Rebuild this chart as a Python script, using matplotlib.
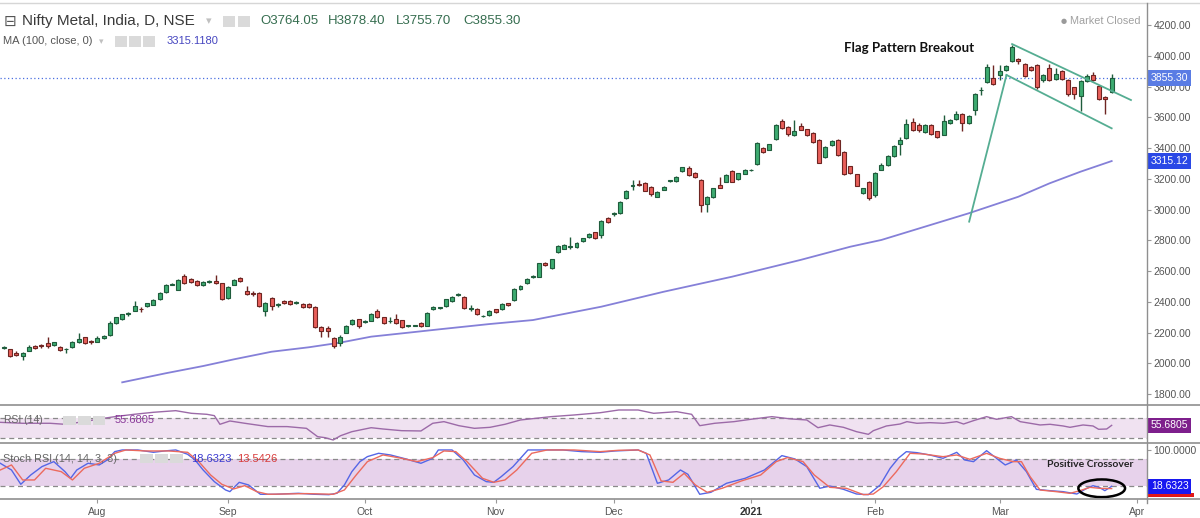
import numpy as np
import matplotlib
matplotlib.use('Agg')
import matplotlib.pyplot as plt
from matplotlib.patches import Ellipse, Rectangle
from matplotlib.lines import Line2D
import matplotlib.transforms as mtransforms

plt.rcParams['font.family'] = ['Liberation Sans', 'DejaVu Sans']

# ---------------- data (bar index 0 = 13 Jul 2020, last = 26 Mar 2021) ----------------
opens = [2100, 2090, 2068, 2045, 2082, 2114, 2118, 2130, 2118, 2108,
         2090, 2104, 2137, 2168, 2148, 2140, 2163, 2184, 2262, 2288,
         2318, 2342, 2355, 2370, 2380, 2416, 2465, 2512, 2478, 2568,
         2548, 2537, 2510, 2528, 2538, 2522, 2422, 2510, 2552, 2470,
         2455, 2458, 2340, 2422, 2382, 2406, 2403, 2394, 2385, 2384,
         2368, 2238, 2232, 2166, 2130, 2200, 2256, 2286, 2268, 2278,
         2342, 2298, 2275, 2285, 2280, 2242, 2245, 2265, 2244, 2352,
         2360, 2372, 2402, 2446, 2433, 2355, 2356, 2305, 2314, 2350,
         2350, 2390, 2412, 2482, 2520, 2560, 2563, 2655, 2620, 2722,
         2745, 2757, 2758, 2792, 2820, 2852, 2835, 2943, 2972, 2976,
         3073, 3156, 3166, 3174, 3148, 3084, 3128, 3183, 3186, 3250,
         3272, 3238, 3192, 3036, 3080, 3160, 3182, 3250, 3198, 3232,
         3255, 3294, 3402, 3388, 3458, 3578, 3535, 3486, 3543, 3522,
         3500, 3452, 3340, 3420, 3452, 3376, 3280, 3230, 3105, 3180,
         3097, 3260, 3288, 3350, 3428, 3465, 3567, 3551, 3502, 3551,
         3508, 3487, 3562, 3588, 3622, 3562, 3650, 3776, 3832, 3854,
         3876, 3908, 3966, 3977, 3947, 3930, 3941, 3843, 3923, 3848,
         3902, 3843, 3796, 3735, 3837, 3876, 3804, 3730, 3764.05]
highs = [2115, 2095, 2080, 2075, 2119, 2120, 2128, 2169, 2140, 2112,
         2100, 2145, 2195, 2172, 2152, 2175, 2182, 2272, 2303, 2322,
         2335, 2405, 2365, 2395, 2415, 2466, 2518, 2522, 2545, 2578,
         2552, 2540, 2534, 2540, 2574, 2525, 2502, 2545, 2560, 2500,
         2470, 2462, 2400, 2430, 2395, 2412, 2410, 2404, 2392, 2390,
         2372, 2242, 2240, 2172, 2185, 2248, 2288, 2290, 2280, 2325,
         2350, 2302, 2300, 2320, 2284, 2250, 2252, 2270, 2333, 2372,
         2368, 2420, 2436, 2456, 2438, 2380, 2360, 2314, 2344, 2355,
         2390, 2395, 2490, 2506, 2554, 2572, 2655, 2660, 2680, 2770,
         2776, 2823, 2790, 2816, 2845, 2856, 2930, 2950, 2985, 3055,
         3126, 3190, 3195, 3180, 3152, 3120, 3152, 3195, 3216, 3278,
         3280, 3242, 3196, 3086, 3142, 3210, 3228, 3254, 3238, 3264,
         3264, 3436, 3408, 3428, 3555, 3590, 3540, 3582, 3560, 3526,
         3504, 3456, 3412, 3450, 3456, 3380, 3284, 3234, 3142, 3184,
         3242, 3300, 3352, 3420, 3470, 3590, 3592, 3560, 3556, 3556,
         3512, 3616, 3590, 3640, 3628, 3615, 3756, 3800, 3945, 3940,
         3940, 3940, 4072, 3985, 3952, 3936, 3946, 3880, 3945, 3920,
         3908, 3848, 3800, 3840, 3880, 3895, 3810, 3740, 3878.40]
lows = [2095, 2040, 2050, 2021, 2078, 2095, 2100, 2102, 2112, 2078,
        2068, 2100, 2132, 2126, 2128, 2135, 2158, 2180, 2258, 2282,
        2305, 2338, 2335, 2365, 2376, 2412, 2460, 2508, 2474, 2518,
        2520, 2500, 2505, 2522, 2518, 2412, 2418, 2506, 2526, 2445,
        2440, 2368, 2310, 2345, 2368, 2386, 2382, 2388, 2360, 2358,
        2230, 2172, 2172, 2100, 2110, 2195, 2250, 2232, 2260, 2272,
        2296, 2258, 2265, 2256, 2230, 2236, 2240, 2238, 2240, 2348,
        2355, 2368, 2398, 2440, 2352, 2340, 2316, 2298, 2310, 2330,
        2346, 2370, 2408, 2478, 2516, 2552, 2560, 2630, 2610, 2718,
        2740, 2745, 2752, 2788, 2815, 2808, 2815, 2915, 2960, 2970,
        3068, 3126, 3150, 3118, 3090, 3080, 3124, 3178, 3182, 3246,
        3220, 3205, 2986, 2985, 3076, 3138, 3178, 3176, 3192, 3228,
        3250, 3290, 3368, 3384, 3452, 3526, 3480, 3480, 3514, 3480,
        3430, 3300, 3335, 3415, 3350, 3226, 3234, 3150, 3100, 3060,
        3080, 3255, 3280, 3344, 3357, 3460, 3510, 3505, 3496, 3486,
        3465, 3482, 3556, 3582, 3508, 3556, 3615, 3746, 3826, 3812,
        3840, 3902, 3960, 3945, 3864, 3898, 3785, 3830, 3838, 3842,
        3842, 3735, 3720, 3638, 3832, 3838, 3715, 3620, 3755.70]
closes = [2105, 2048, 2056, 2068, 2104, 2101, 2112, 2110, 2136, 2083,
          2094, 2140, 2157, 2131, 2135, 2162, 2178, 2264, 2299, 2318,
          2328, 2372, 2350, 2390, 2410, 2460, 2512, 2518, 2540, 2522,
          2526, 2512, 2530, 2535, 2522, 2418, 2498, 2540, 2532, 2450,
          2452, 2373, 2395, 2370, 2388, 2392, 2388, 2398, 2366, 2364,
          2235, 2212, 2208, 2110, 2172, 2242, 2281, 2240, 2272, 2320,
          2300, 2265, 2278, 2262, 2235, 2246, 2248, 2244, 2328, 2368,
          2364, 2416, 2432, 2452, 2358, 2360, 2320, 2308, 2340, 2336,
          2385, 2376, 2486, 2502, 2550, 2565, 2650, 2636, 2676, 2765,
          2772, 2760, 2785, 2812, 2840, 2815, 2926, 2920, 2978, 3050,
          3122, 3160, 3162, 3122, 3102, 3115, 3148, 3190, 3212, 3274,
          3225, 3210, 3030, 3082, 3138, 3143, 3224, 3182, 3235, 3260,
          3260, 3430, 3373, 3424, 3550, 3530, 3492, 3512, 3518, 3486,
          3442, 3305, 3408, 3446, 3355, 3232, 3238, 3153, 3138, 3075,
          3238, 3292, 3346, 3415, 3454, 3558, 3515, 3516, 3551, 3492,
          3472, 3573, 3584, 3622, 3563, 3610, 3750, 3780, 3930, 3818,
          3904, 3934, 4060, 3964, 3870, 3905, 3797, 3876, 3843, 3882,
          3848, 3750, 3753, 3833, 3869, 3843, 3720, 3720, 3855.30]

# MA(100, close)
ma_idx = [19, 26, 32, 37, 43, 49, 54, 59, 65, 70, 74, 78, 85, 96, 106, 117,
          128, 136, 141, 155, 163, 168, 173, 178]
ma_val = [1876, 1935, 1982, 2026, 2075, 2104, 2134, 2173, 2199, 2221, 2238,
          2255, 2281, 2368, 2465, 2563, 2672, 2758, 2802, 2975, 3083, 3170,
          3246, 3315.118]

# RSI(14)
rsi_idx = [-0.6, 3.0, 7.4, 9.8, 12.9, 15.3, 17.8, 20.9, 24.0, 27.6, 30.1, 32.6,
           33.8, 34.7, 36.3, 38.7, 42.4, 45.5, 48.6, 50.4, 51.6, 52.9, 54.1,
           55.9, 59.0, 60.9, 63.9, 67.0, 68.9, 70.7, 73.1, 75.6, 78.1, 80.5,
           83.0, 85.5, 87.9, 91.6, 95.8, 98.8, 101.9, 104.4, 108.1, 110.5,
           111.8, 114.2, 117.3, 120.4, 123.4, 126.5, 129.0, 130.8, 132.7,
           134.9, 137.0, 138.9, 139.7, 141.8, 144.0, 145.1, 146.7, 148.8,
           151.0, 153.1, 154.2, 155.8, 157.9, 159.5, 161.9, 163.3, 164.9,
           166.5, 168.1, 170.2, 171.3, 173.4, 175.0, 175.9, 177.2, 178.0]
rsi_val = [62.0, 60.0, 60.0, 57.9, 63.4, 69.0, 73.8, 78.7, 82.9, 86.3, 80.8,
           78.7, 75.9, 57.9, 64.8, 60.0, 53.1, 53.1, 49.5, 32.1, 30.0, 25.2,
           34.2, 42.5, 50.8, 48.1, 44.6, 44.0, 60.0, 63.4, 55.0, 49.5, 51.6,
           57.9, 66.9, 70.4, 73.8, 77.3, 82.0, 87.7, 87.7, 80.8, 84.2, 78.7,
           55.0, 60.0, 63.4, 69.0, 73.8, 69.0, 66.9, 50.8, 56.5, 51.6, 42.5,
           37.0, 44.6, 54.4, 58.5, 63.4, 60.0, 61.3, 60.0, 63.4, 58.5, 65.5,
           73.8, 68.3, 73.8, 63.4, 60.0, 56.5, 57.9, 54.4, 51.6, 56.5, 54.4,
           47.5, 48.1, 55.6805]

# Stoch RSI (14, 14, 3, 3): %K (blue) and %D (red)
k_idx = [-0.6, 1.2, 2.7, 4.3, 6.1, 8.0, 9.8, 10.7, 11.7, 13.5, 15.3, 16.6,
         17.8, 19.0, 21.5, 24.0, 25.8, 27.6, 29.5, 30.7, 32.0, 33.8, 35.6,
         36.3, 37.8, 39.3, 41.2, 43.6, 47.3, 49.8, 52.2, 53.5, 54.7, 55.9,
         57.2, 58.4, 60.2, 62.1, 64.6, 67.0, 68.9, 69.8, 72.0, 73.8, 75.6,
         77.5, 78.7, 79.9, 81.8, 84.2, 86.7, 89.8, 92.8, 95.8, 98.2, 101.9,
         103.2, 105.0, 106.8, 108.7, 109.9, 111.8, 113.6, 116.1, 119.1, 122.2,
         125.0, 127.1, 129.0, 131.1, 132.7, 134.9, 137.0, 138.9, 140.8, 142.4,
         143.7, 145.0, 146.7, 148.8, 150.9, 153.1, 154.4, 155.8, 157.9, 159.5,
         160.9, 162.7, 164.3, 165.9, 168.1, 170.2, 172.4, 174.0, 175.0, 176.1,
         176.9, 178.0]
k_val = [69.8, 54.9, 23.1, 43.8, 62.4, 73.5, 51.2, 36.4, 54.9, 69.8, 66.1,
         77.2, 95.7, 99.4, 99.4, 94.2, 97.2, 99.4, 89.8, 77.2, 54.9, 29.0,
         10.5, 6.8, 27.5, 21.6, 0.9, 0.9, 3.1, 0.9, 0.0, 3.1, 21.6, 51.2,
         73.5, 84.6, 92.0, 88.3, 79.4, 69.8, 80.9, 99.4, 99.4, 77.2, 43.8,
         29.0, 27.5, 40.1, 62.4, 99.4, 99.4, 99.4, 95.7, 94.2, 97.2, 99.4,
         92.0, 25.3, 32.7, 54.9, 45.3, 0.9, 5.3, 25.3, 36.4, 54.9, 86.8,
         79.4, 62.4, 14.2, 19.3, 11.9, 1.5, 0.0, 21.5, 58.6, 80.8, 95.6,
         93.4, 88.2, 80.8, 94.1, 77.1, 73.4, 97.8, 80.8, 66.0, 77.1, 51.2,
         11.9, 8.9, 6.7, 1.5, 14.1, 20.0, 15.6, 8.9, 18.6323]
d_idx = [-0.6, 1.2, 3.0, 4.9, 6.7, 9.2, 11.0, 12.9, 15.3, 17.8, 19.6, 22.7,
         26.4, 29.5, 31.3, 33.2, 35.0, 36.9, 38.7, 40.6, 42.4, 48.6, 52.9,
         54.7, 56.6, 58.4, 60.9, 63.3, 66.4, 68.9, 70.7, 72.6, 74.4, 76.9,
         78.7, 80.5, 82.4, 84.8, 87.3, 91.6, 95.8, 98.8, 101.9, 103.8, 105.6,
         107.5, 109.3, 111.1, 113.0, 115.4, 118.5, 121.6, 124.1, 125.9, 128.4,
         130.2, 132.7, 135.4, 138.1, 139.7, 141.3, 143.4, 145.6, 147.7, 150.9,
         153.1, 155.2, 157.9, 160.0, 162.2, 163.5, 164.9, 166.5, 169.1, 171.3,
         172.9, 174.5, 176.1, 178.0]
d_val = [54.9, 66.1, 32.7, 32.7, 58.7, 51.2, 32.7, 58.7, 69.8, 92.0, 99.4,
         97.2, 97.2, 94.2, 73.5, 43.8, 23.1, 12.7, 20.1, 6.8, 0.9, 2.4, 0.9,
         10.5, 43.8, 73.5, 88.3, 82.4, 73.5, 82.4, 97.2, 95.7, 73.5, 36.4,
         27.5, 32.7, 54.9, 92.0, 99.4, 99.4, 95.7, 98.7, 99.4, 88.3, 30.5,
         27.5, 47.5, 21.6, 5.3, 14.2, 30.5, 43.8, 73.5, 82.4, 73.5, 43.8,
         16.3, 14.1, 0.0, 1.5, 17.8, 51.2, 91.9, 90.4, 84.5, 88.2, 78.6,
         91.9, 80.8, 73.4, 73.4, 40.0, 10.4, 6.7, 3.0, 8.9, 16.3, 14.1, 13.5426]

# hand-drawn flag pattern lines (bar index, price)
pole_line = ([155.1, 161.1], [2921, 3875])
flag_lower = ([161.1, 178.0], [3875, 3528])
flag_upper = ([162.0, 181.1], [4076, 3712])

month_pos = [15, 36, 58, 79, 98, 120, 140, 160, 182]
month_lab = ['Aug', 'Sep', 'Oct', 'Nov', 'Dec', '2021', 'Feb', 'Mar', 'Apr']
price_ticks = [1800, 2000, 2200, 2400, 2600, 2800, 3000, 3200, 3400, 3600, 3800, 4000, 4200]

# ---------------- figure ----------------
W, H = 1200, 518
fig = plt.figure(figsize=(W / 100, H / 100), dpi=100)
fig.patch.set_facecolor('white')

def fx(x):
    return x / W

def fy(y):
    return 1 - y / H

XAX = 1146.7
TOP, SEP1, SEP2, BOT = 4, 405, 443.3, 499
ax = fig.add_axes([0, fy(SEP1), fx(XAX), (SEP1 - TOP) / H])
ax_r = fig.add_axes([0, fy(SEP2), fx(XAX), (SEP2 - SEP1) / H], sharex=ax)
ax_s = fig.add_axes([0, fy(BOT), fx(XAX), (BOT - SEP2) / H], sharex=ax)

for a in (ax, ax_r, ax_s):
    for s in a.spines.values():
        s.set_visible(False)
    a.set_facecolor('none')

ax.set_xlim(-0.643, 183.63)
ax.set_ylim(1728.5, 4336.6)
ax_r.set_ylim(18.3, 98.1)
ax_s.set_ylim(-9.6, 114.2)

# ---- candles ----
o = np.array(opens, float); h = np.array(highs, float)
l = np.array(lows, float); c = np.array(closes, float)
idx = np.arange(len(c))
up = c >= o
fill = np.where(up, '#3dab70', '#e85f5a')
edge = np.where(up, '#1f5c3c', '#6e2522')
ax.vlines(idx, l, h, colors=edge, linewidth=1.0, zorder=2)
ax.bar(idx, np.abs(c - o), bottom=np.minimum(o, c), width=0.64, color=fill,
       edgecolor=edge, linewidth=0.8, zorder=3)

# MA line
ax.plot(ma_idx, ma_val, color='#8580d8', lw=1.3, zorder=2)
# last price dotted line
ax.axhline(closes[-1], color='#4a6fe0', lw=0.9, ls=(0, (1, 2)), zorder=1)

# flag pattern lines
for xs, ys in (pole_line, flag_lower, flag_upper):
    ax.plot(xs, ys, color='#55ad92', lw=1.3, zorder=4)
ax.text(145.5, 4050, 'Flag Pattern Breakout', fontsize=9.5, fontweight='bold',
        family=['Lato', 'DejaVu Sans'], color='#111111', ha='center', va='center')

# price axis
ax.yaxis.tick_right()
ax.set_yticks(price_ticks)
ax.set_yticklabels([f'{v:.2f}' for v in price_ticks])
ax.tick_params(axis='y', length=3, color='#999999', labelcolor='#555555',
               labelsize=7.5, pad=2)
ax.tick_params(axis='x', bottom=False, labelbottom=False)

# ---- RSI ----
ax_r.axhspan(30, 70, color='#f0e2f1', lw=0, zorder=0)
for v in (70, 30):
    ax_r.axhline(v, color='#8a8a8a', lw=0.9, ls=(0, (4, 3)), zorder=1)
ax_r.plot(rsi_idx, rsi_val, color='#9c6aa8', lw=1.0, zorder=2)
ax_r.set_yticks([])
ax_r.tick_params(axis='x', bottom=False, labelbottom=False)

# ---- Stoch RSI ----
ax_s.axhspan(20, 80, color='#e7d2eb', lw=0, zorder=0)
for v in (80, 20):
    ax_s.axhline(v, color='#8a8a8a', lw=0.9, ls=(0, (4, 3)), zorder=1)
ax_s.plot(k_idx, k_val, color='#5566e6', lw=1.0, zorder=2)
ax_s.plot(d_idx, d_val, color='#ec6a5e', lw=1.0, zorder=2)
ax_s.add_patch(Ellipse((176.4, 14.2), 7.5, 39.3, fill=False, ec='black', lw=1.8, zorder=5))
ax_s.text(174.5, 66, 'Positive Crossover', fontsize=7.5, fontweight='bold',
          family=['Lato', 'DejaVu Sans'], color='#222222', ha='center', va='center')
ax_s.yaxis.tick_right()
ax_s.set_yticks([100])
ax_s.set_yticklabels(['100.0000'])
ax_s.tick_params(axis='y', length=3, color='#999999', labelcolor='#555555',
                 labelsize=7.5, pad=2)
ax_s.set_xticks(month_pos)
ax_s.set_xticklabels(month_lab)
ax_s.tick_params(axis='x', length=3, color='#999999', labelcolor='#555555',
                 labelsize=7.5, pad=3, direction='out')
for t in ax_s.get_xticklabels():
    if t.get_text() == '2021':
        t.set_fontweight('bold')
        t.set_color('#333333')

# ---- right-side value boxes ----
def value_box(a, val, text, fc, z=6):
    tr = mtransforms.blended_transform_factory(a.transAxes, a.transData)
    a.text(1.0035, val, text, transform=tr, ha='left', va='center', fontsize=7.5,
           color='white', zorder=z, clip_on=False,
           bbox=dict(boxstyle='square,pad=0.25', fc=fc, ec='none'))

value_box(ax, closes[-1], f'{closes[-1]:.2f}', '#5a7ce4')
value_box(ax, ma_val[-1], f'{ma_val[-1]:.2f}', '#2a48e6')
value_box(ax_r, rsi_val[-1], f'{rsi_val[-1]:.4f}', '#7e1f8c')
# %D label: hidden behind the %K label, only a red strip peeks out below it
tr_s = mtransforms.blended_transform_factory(ax_s.transAxes, ax_s.transData)
ax_s.add_patch(Rectangle((1.0015, d_val[-1] - 19.3), 0.0395, 8.9, transform=tr_s,
                         fc='#e01818', ec='none', clip_on=False, zorder=5))
value_box(ax_s, k_val[-1], f'{k_val[-1]:.4f}', '#1818f0', z=6)

# ---- separators / frame lines ----
def hline(y, color='#8f8f8f', lw=1.2, x0=0, x1=W):
    fig.add_artist(Line2D([fx(x0), fx(x1)], [fy(y), fy(y)], color=color, lw=lw,
                          transform=fig.transFigure))

hline(2.5, color='#d6d6d6', lw=1.0)
hline(SEP1)
hline(SEP2)
hline(BOT)
fig.add_artist(Line2D([fx(XAX), fx(XAX)], [fy(3), fy(503)], color='#8f8f8f', lw=1.0,
                      transform=fig.transFigure))

# ---- legend / header texts ----
def icon(x0, x1, y0, y1):
    fig.add_artist(Rectangle((fx(x0), fy(y1)), (x1 - x0) / W, (y1 - y0) / H,
                             transform=fig.transFigure, fc='#dadada', ec='none'))

fig.text(fx(4), fy(21.5), '\u229f', fontsize=11, color='#555555', va='center', ha='left',
         family=['DejaVu Sans'])
fig.text(fx(21.7), fy(21.5), 'Nifty Metal, India, D, NSE', fontsize=11, color='#3a3a3a',
         va='center', ha='left')
fig.text(fx(206), fy(21.5), '\u25be', fontsize=8, color='#c0c0c0', va='center', ha='left',
         family=['DejaVu Sans'])
icon(223, 235, 16, 27)
icon(238, 250, 16, 27)
hdr_col = '#356d4f'
for xp, s in ((260, f'O{opens[-1]:.2f}'), (328, f'H{highs[-1]:.2f}'),
              (396, f'L{lows[-1]:.2f}'), (463, f'C{closes[-1]:.2f}')):
    fig.text(fx(xp), fy(21.5), s, fontsize=9.5, color=hdr_col, va='center', ha='left')

fig.text(fx(3), fy(41.5), 'MA (100, close, 0)', fontsize=8, color='#555555', va='center', ha='left')
fig.text(fx(99), fy(41.5), '\u25be', fontsize=6.5, color='#c0c0c0', va='center', ha='left',
         family=['DejaVu Sans'])
icon(115, 127, 36, 47)
icon(129, 141, 36, 47)
icon(143, 155, 36, 47)
fig.text(fx(167), fy(41.5), f'{ma_val[-1]:.4f}', fontsize=8, color='#4646c0', va='center', ha='left')

fig.text(fx(1060.5), fy(20.5), '\u25cf', fontsize=5, color='#9a9a9a', va='center', ha='left',
         family=['DejaVu Sans'])
fig.text(fx(1070.5), fy(20.5), 'Market Closed', fontsize=7.8, color='#a0a0a0', va='center', ha='left')

# RSI pane legend
fig.text(fx(4), fy(420), 'RSI (14)', fontsize=7.5, color='#666666', va='center', ha='left')
icon(63, 76, 416, 425)
icon(78, 91, 416, 425)
icon(93, 105, 416, 425)
fig.text(fx(115), fy(420), f'{rsi_val[-1]:.4f}', fontsize=8, color='#8a3a9a', va='center', ha='left')

# Stoch pane legend
fig.text(fx(3), fy(458.5), 'Stoch RSI (14, 14, 3, 3)', fontsize=7.8, color='#666666',
         va='center', ha='left')
icon(140, 153, 454, 463)
icon(155, 168, 454, 463)
icon(170, 183, 454, 463)
fig.text(fx(191), fy(458.5), f'{k_val[-1]:.4f}', fontsize=8, color='#3a3ad0', va='center', ha='left')
fig.text(fx(237), fy(458.5), f'{d_val[-1]:.4f}', fontsize=8, color='#d83c3c', va='center', ha='left')

fig.savefig('out.png', dpi=100, facecolor='white')
